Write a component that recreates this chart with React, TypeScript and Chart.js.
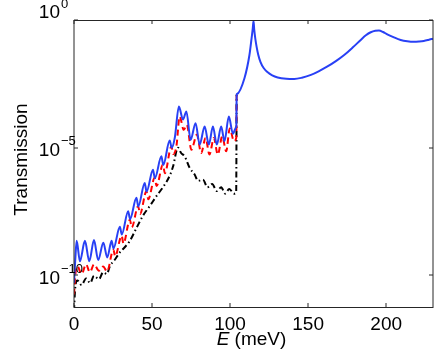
import React, { useEffect, useRef } from 'react';
import { Chart, registerables } from 'chart.js';

Chart.register(...registerables);

const FONT = '"Liberation Sans", Arial, Helvetica, sans-serif';

// Axis texts and ticks
const xTicks = [0, 50, 100, 150, 200];
const yTickExponents = [0, -5, -10];
const yTickBase = '10';
const xTitleVar = 'E';
const xTitleUnit = ' (meV)';
const yTitle = 'Transmission';
const xMin = 0;
const xMax = 230;
const yMinExp = -11.24;
const yMaxExp = 0;

// Blue solid series: energy (meV) and log10(transmission)
const blueE = [0, 0.8, 1.7, 3.8, 7.0, 9.8, 12.8, 15.5, 18.8, 21.3, 24.1, 25.3, 29.4, 30.6, 34.7, 35.9, 40.0, 41.2, 45.3, 46.5, 50.6, 51.8, 56.0, 57.2, 61.3, 62.6, 64.6, 67.2, 69.8, 72.0, 74.7, 77.9, 80.5, 83.7, 86.4, 89.0, 91.5, 94.3, 96.4, 99.2, 101.8, 103.9, 104.0, 104.2, 104.4, 109.2, 112.4, 113.8, 114.5, 115.0, 115.5, 116.2, 117.0, 118.0, 119.5, 121.5, 124.1, 127.0, 130.5, 136.0, 141.1, 146.0, 151.8, 157.0, 162.4, 168.0, 173.1, 178.5, 183.7, 187.0, 190.1, 193.0, 195.4, 198.0, 200.7, 205.0, 209.3, 213.5, 217.8, 221.0, 224.1, 227.0, 230.0];
const blueLogT = [-10.3, -9.4, -8.65, -9.45, -8.65, -9.45, -8.62, -9.4, -8.72, -9.3, -8.65, -8.95, -8.1, -8.4, -7.49, -7.8, -6.96, -7.3, -6.38, -6.72, -5.86, -6.2, -5.34, -5.68, -4.72, -5.0, -4.6, -3.39, -3.9, -3.58, -4.69, -4.04, -4.88, -4.17, -4.88, -4.17, -4.88, -4.17, -4.75, -3.78, -4.45, -4.2, -4.18, -2.93, -2.9, -2.28, -1.37, -0.7, -0.35, -0.03, -0.4, -0.75, -1.05, -1.35, -1.65, -1.88, -2.05, -2.17, -2.25, -2.3, -2.31, -2.26, -2.15, -2.0, -1.82, -1.6, -1.37, -1.08, -0.78, -0.6, -0.48, -0.42, -0.41, -0.47, -0.56, -0.68, -0.78, -0.83, -0.85, -0.84, -0.82, -0.78, -0.73];

// Red dashed series
const redE = [0, 0.8, 2.1, 4.9, 7.7, 10.2, 12.8, 16.0, 18.7, 21.2, 25.2, 26.4, 30.5, 31.7, 35.8, 37.0, 41.1, 42.3, 46.4, 47.6, 51.7, 52.9, 57.0, 58.2, 62.4, 63.6, 65.6, 67.7, 70.3, 72.3, 75.2, 78.7, 81.5, 84.3, 86.8, 89.6, 92.1, 95.0, 97.5, 99.8, 102.5, 104.0, 104.2];
const redLogT = [-10.75, -10.0, -9.64, -9.95, -9.57, -9.88, -9.57, -9.82, -9.65, -9.85, -9.0, -9.25, -8.45, -8.75, -7.82, -8.12, -7.29, -7.6, -6.71, -7.02, -6.18, -6.5, -5.66, -6.0, -4.95, -5.25, -4.95, -3.78, -4.3, -4.1, -5.08, -4.49, -5.21, -4.62, -5.27, -4.62, -5.27, -4.56, -5.14, -4.25, -4.75, -4.6, -2.93];

// Black dash-dot series
const blackE = [0, 0.7, 2.1, 4.9, 7.7, 10.4, 12.8, 16.0, 18.7, 21.0, 23.0, 26.0, 29.4, 32.5, 35.8, 40.0, 44.3, 48.5, 52.8, 57.0, 61.3, 63.4, 66.6, 68.5, 70.9, 74.1, 77.3, 79.5, 82.6, 85.5, 88.5, 91.5, 94.3, 96.8, 99.5, 102.5, 103.9, 104.2];
const blackLogT = [-11.4, -10.55, -10.2, -10.38, -10.12, -10.3, -10.02, -10.15, -9.88, -9.95, -9.64, -9.4, -9.1, -8.9, -8.65, -8.15, -7.65, -7.29, -6.9, -6.55, -6.1, -5.75, -5.0, -5.2, -5.34, -5.79, -6.05, -6.3, -6.25, -6.55, -6.42, -6.7, -6.55, -6.8, -6.62, -6.8, -6.75, -2.93];

const toPoints = (es: number[], logs: number[]) =>
  es.map((e, i) => ({ x: e, y: Math.pow(10, logs[i]) }));

const framePlugin = {
  id: 'frameAndLabels',
  afterDraw(chart: any) {
    const { ctx, chartArea: a, scales } = chart;
    const xs = scales.x;
    const ys = scales.y;
    ctx.save();
    // frame
    ctx.strokeStyle = '#262626';
    ctx.lineWidth = 1;
    ctx.beginPath();
    ctx.moveTo(a.left, a.top + 0.5);
    ctx.lineTo(a.right, a.top + 0.5);
    ctx.moveTo(a.left, a.bottom + 0.5);
    ctx.lineTo(a.right, a.bottom + 0.5);
    ctx.moveTo(a.left, a.top);
    ctx.lineTo(a.left, a.bottom + 1);
    ctx.moveTo(a.right, a.top);
    ctx.lineTo(a.right, a.bottom + 1);
    ctx.stroke();
    // inward ticks
    const tl = 4;
    ctx.beginPath();
    xTicks.forEach((v) => {
      const px = Math.round(xs.getPixelForValue(v));
      ctx.moveTo(px, a.top);
      ctx.lineTo(px, a.top + tl);
      ctx.moveTo(px, a.bottom);
      ctx.lineTo(px, a.bottom - tl);
    });
    yTickExponents.forEach((ex) => {
      const py = Math.round(ys.getPixelForValue(Math.pow(10, ex)));
      ctx.moveTo(a.left, py);
      ctx.lineTo(a.left + tl, py);
      ctx.moveTo(a.right, py);
      ctx.lineTo(a.right - tl, py);
    });
    ctx.stroke();
    // y tick labels 10^n
    ctx.fillStyle = '#000';
    ctx.textBaseline = 'middle';
    yTickExponents.forEach((ex) => {
      const py = ys.getPixelForValue(Math.pow(10, ex));
      const by = ex === 0 ? py - 7 : py + 3;
      ctx.font = `19px ${FONT}`;
      ctx.textAlign = 'right';
      ctx.fillText(yTickBase, a.left - 14, by);
      ctx.font = `13px ${FONT}`;
      ctx.textAlign = 'left';
      ctx.fillText(String(ex).replace('-', '\u2212'), a.left - 13, by - 9);
    });
    // y title
    ctx.save();
    ctx.translate(22, (a.top + a.bottom) / 2 - 4);
    ctx.rotate(-Math.PI / 2);
    ctx.font = `19px ${FONT}`;
    ctx.textAlign = 'center';
    ctx.textBaseline = 'middle';
    ctx.fillText(yTitle, 0, 0);
    ctx.restore();
    // x title
    ctx.textBaseline = 'middle';
    ctx.textAlign = 'left';
    ctx.font = `italic 19px ${FONT}`;
    const w1 = ctx.measureText(xTitleVar).width;
    ctx.font = `19px ${FONT}`;
    const w2 = ctx.measureText(xTitleUnit).width;
    const cx = (a.left + a.right) / 2 - 2;
    const ty = 340;
    ctx.font = `italic 19px ${FONT}`;
    ctx.fillText(xTitleVar, cx - (w1 + w2) / 2, ty);
    ctx.font = `19px ${FONT}`;
    ctx.fillText(xTitleUnit, cx - (w1 + w2) / 2 + w1, ty);
    ctx.restore();
  },
};

export default function App() {
  const ref = useRef<HTMLCanvasElement | null>(null);
  useEffect(() => {
    if (!ref.current) return;
    const common = {
      pointRadius: 0,
      borderWidth: 2,
      fill: false,
      cubicInterpolationMode: 'monotone' as const,
    };
    const chart = new Chart(ref.current, {
      type: 'line',
      data: {
        datasets: [
          {
            ...common,
            label: 'blue',
            data: toPoints(blueE, blueLogT),
            borderColor: 'rgb(40,64,245)',
          },
          {
            ...common,
            label: 'red',
            data: toPoints(redE, redLogT),
            borderColor: 'rgb(255,0,0)',
            borderDash: [6, 4],
          },
          {
            ...common,
            label: 'black',
            data: toPoints(blackE, blackLogT),
            borderColor: 'rgb(0,0,0)',
            borderDash: [6, 3, 1.5, 3],
          },
        ],
      },
      options: {
        animation: false,
        responsive: false,
        devicePixelRatio: 1,
        layout: { padding: { top: 20, right: 3, left: 0, bottom: 0 } },
        plugins: { legend: { display: false }, tooltip: { enabled: false } },
        scales: {
          x: {
            type: 'linear',
            min: xMin,
            max: xMax,
            afterBuildTicks: (s: any) => {
              s.ticks = xTicks.map((v) => ({ value: v }));
            },
            afterFit: (s: any) => {
              s.height = 46;
            },
            grid: { display: false, drawTicks: false },
            border: { display: false },
            ticks: {
              color: '#000',
              font: { family: FONT, size: 19 },
              padding: 6,
              maxRotation: 0,
              autoSkip: false,
              callback: (v: any) => String(v),
            },
          },
          y: {
            type: 'logarithmic',
            min: Math.pow(10, yMinExp),
            max: Math.pow(10, yMaxExp),
            afterBuildTicks: (s: any) => {
              s.ticks = yTickExponents.map((ex) => ({ value: Math.pow(10, ex) }));
            },
            afterFit: (s: any) => {
              s.width = 74;
            },
            grid: { display: false, drawTicks: false },
            border: { display: false },
            ticks: { display: false },
          },
        },
      },
      plugins: [framePlugin],
    });
    return () => chart.destroy();
  }, []);
  return (
    <div style={{ position: 'fixed', left: 0, top: 0, width: 436, height: 353, background: '#fff' }}>
      <canvas ref={ref} width={436} height={353} style={{ display: 'block' }} />
    </div>
  );
}
